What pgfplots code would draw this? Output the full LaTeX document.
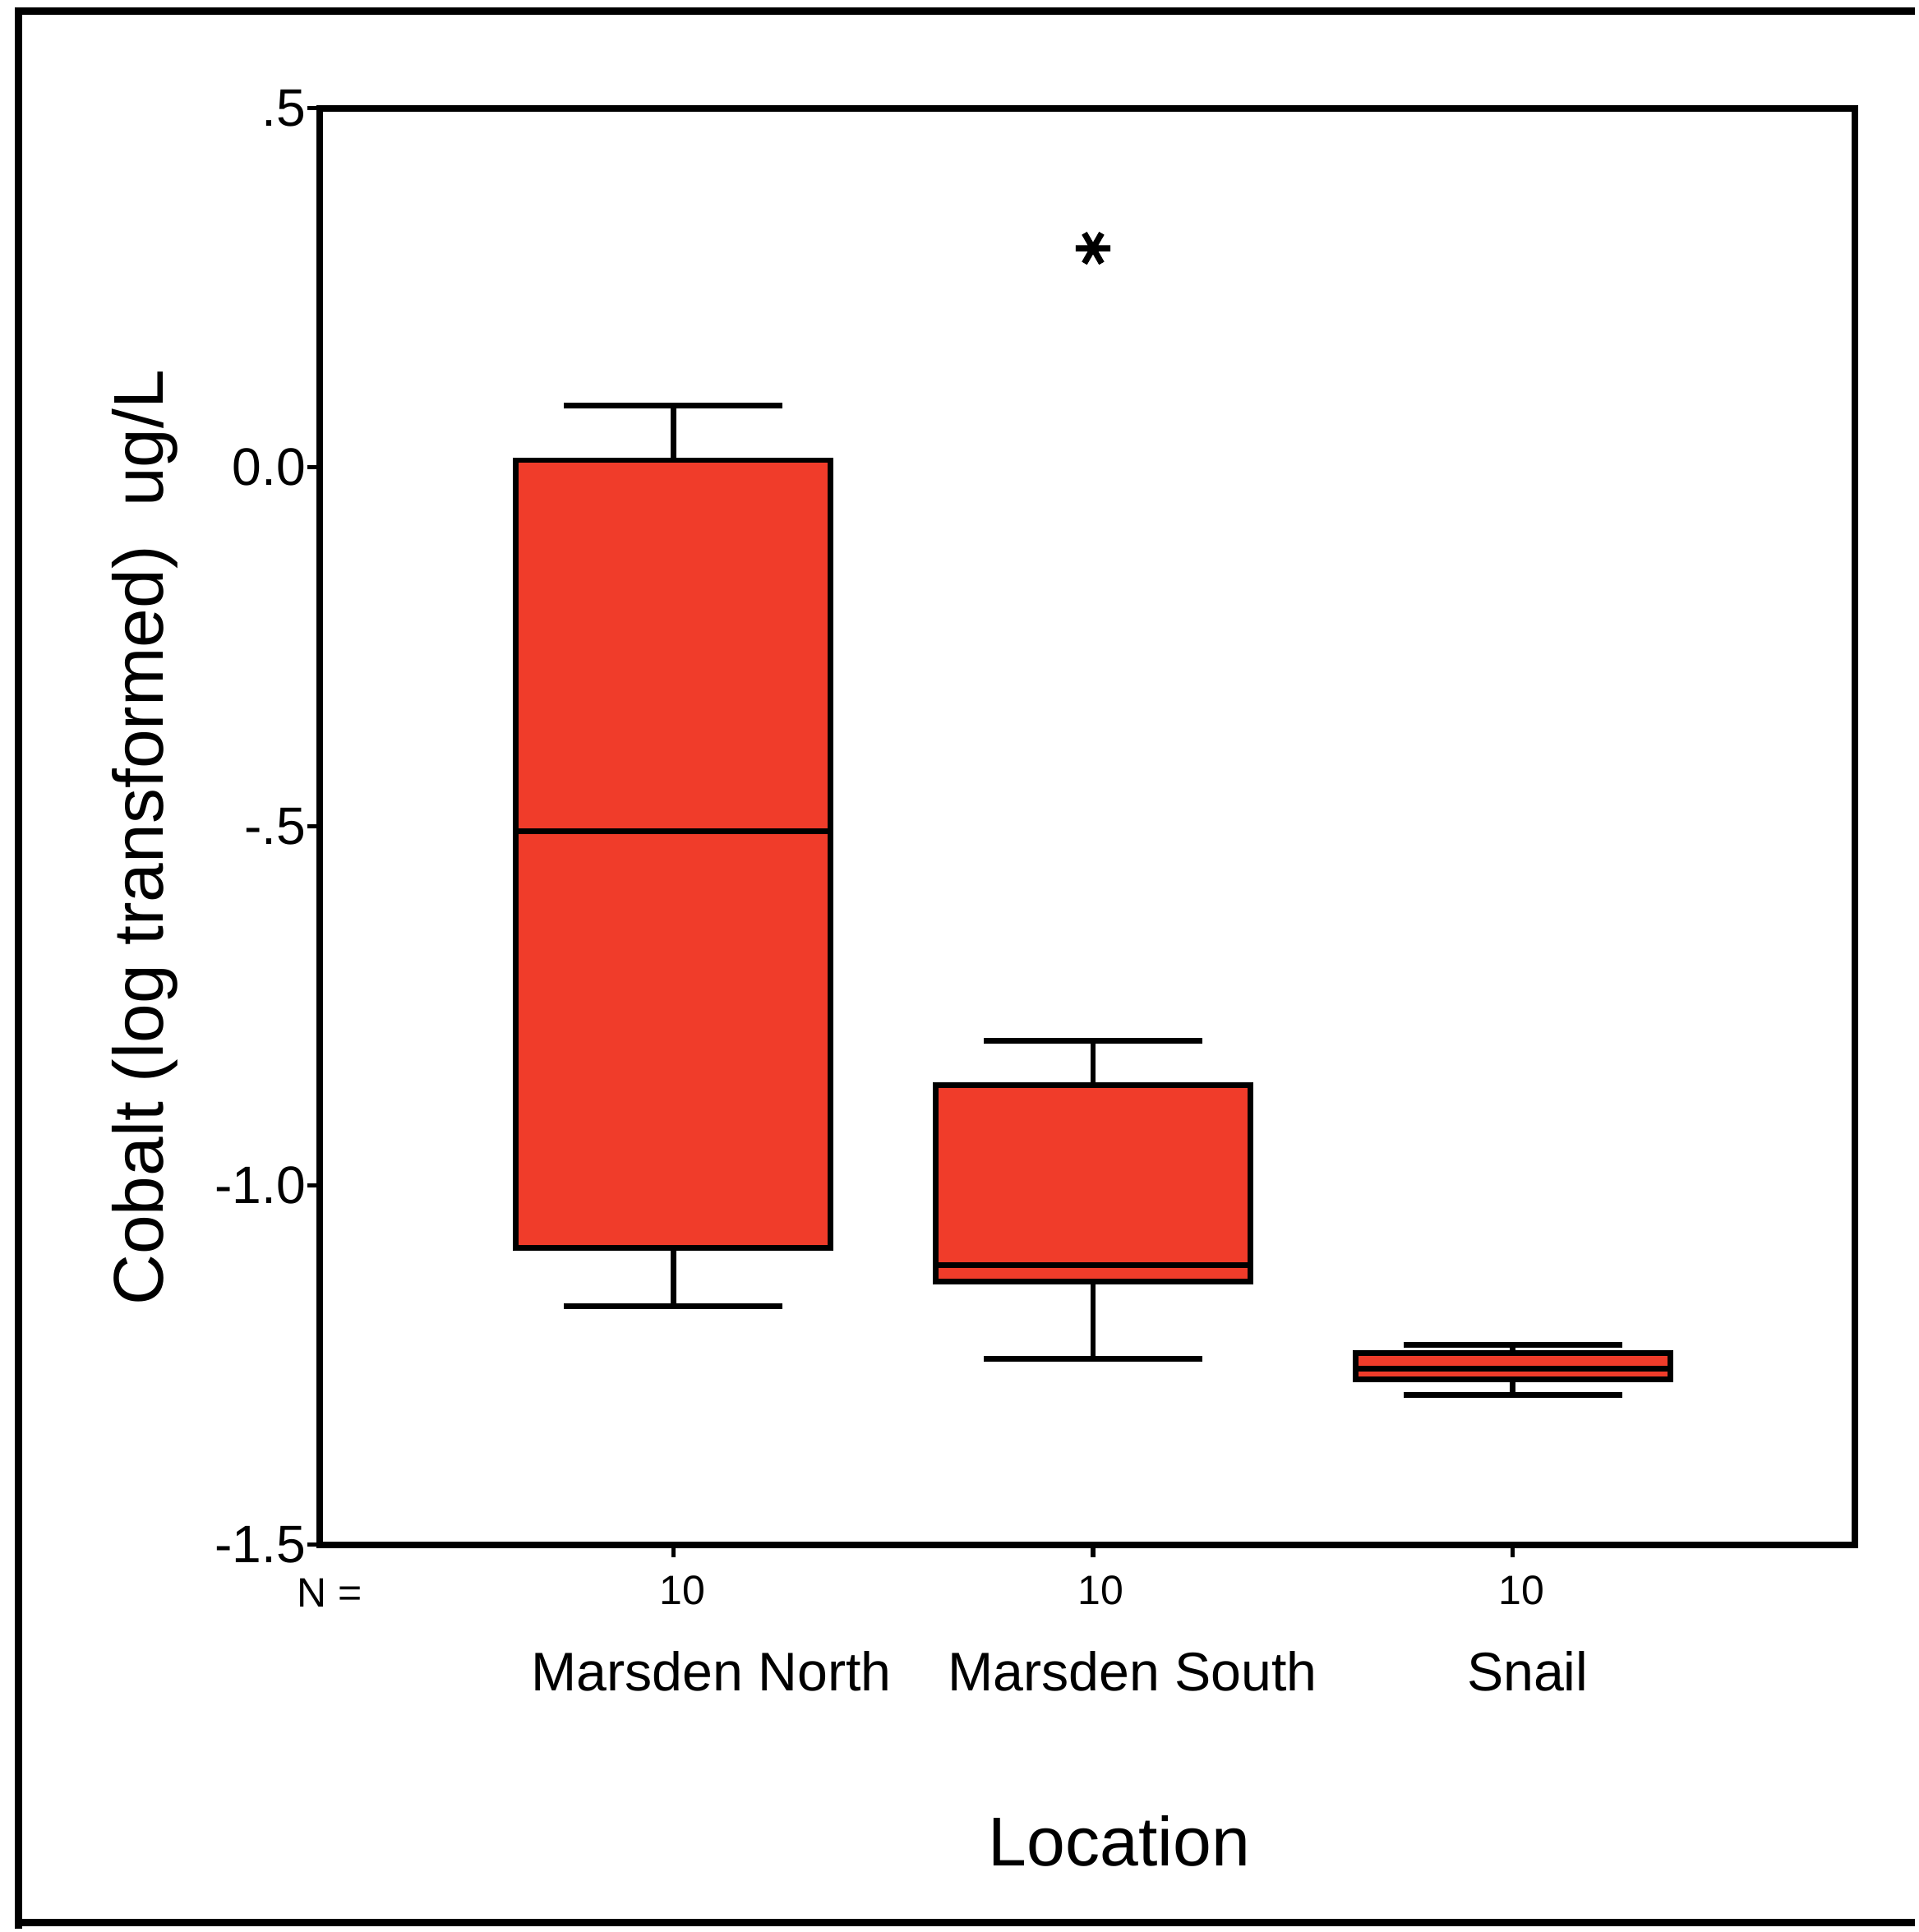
\documentclass[border=0pt]{standalone}
\usepackage{fontspec}
\setmainfont{Liberation Sans}
\usepackage{pgfplots}
\pgfplotsset{compat=1.18}
\usepgfplotslibrary{statistics}
\usetikzlibrary{plotmarks}
\definecolor{boxred}{RGB}{240,60,42}
\begin{document}
\begin{tikzpicture}
\begin{scope}[x=0.1mm,y=-0.1mm,yshift=156.8mm]
\path[use as bounding box] (0,0) rectangle (1557,1568);
\end{scope}
\begin{axis}[
  at={(26mm,31.2mm)}, anchor=south west,
  scale only axis, width=124.8mm, height=116.8mm,
  xmin=0.158, xmax=3.815, ymin=-1.5, ymax=0.5,
  axis line style={line width=1.5pt},
  tick align=outside, major tick length=1mm,
  tick style={black, line width=1pt},
  xtick pos=left, ytick pos=left,
  xtick={1,2,3},
  xticklabels={{\hspace*{6.2mm}Marsden North},{\hspace*{6.4mm}Marsden South},{\hspace*{2.4mm}Snail}},
  xticklabel style={font=\fontsize{12.6}{14}\selectfont, anchor=center, yshift=-9.3mm},
  ytick={-1.5,-1,-0.5,0,0.5},
  yticklabels={-1.5,-1.0,-.5,0.0,.5},
  yticklabel style={font=\fontsize{12.2}{14}\selectfont, xshift=1.1mm},
  boxplot/draw direction=y,
  boxplot/every box/.style={draw=black, fill=boxred, line width=1.3pt},
  boxplot/every whisker/.style={draw=black, line width=1.3pt},
  boxplot/every median/.style={draw=black, line width=1.3pt},
  clip=false,
]
\addplot[boxplot prepared={draw position=1, lower whisker=-1.168, lower quartile=-1.087, median=-0.507, upper quartile=0.010, upper whisker=0.086, box extend=0.75, whisker extend=0.52}, boxplot/draw direction=y, draw=black] coordinates {};
\addplot[boxplot prepared={draw position=2, lower whisker=-1.241, lower quartile=-1.134, median=-1.111, upper quartile=-0.860, upper whisker=-0.798, box extend=0.75, whisker extend=0.52}, boxplot/draw direction=y, draw=black, mark=asterisk, mark size=4pt, mark options={rotate=90, line width=1.4pt, black}] table[row sep=\\, y index=0] {data\\ 0.305\\};
\addplot[boxplot prepared={draw position=3, lower whisker=-1.291, lower quartile=-1.270, median=-1.255, upper quartile=-1.233, upper whisker=-1.222, box extend=0.75, whisker extend=0.52}, boxplot/draw direction=y, draw=black] coordinates {};
\end{axis}
\begin{scope}[x=0.1mm,y=-0.1mm,yshift=156.8mm]
\draw[line width=1.6pt] (15,1568) -- (15,9) -- (1557,9);
\draw[line width=1.6pt] (15,1563) -- (1557,1563);
\node[font=\fontsize{9.5}{11}\selectfont] at (268,1295) {N =};
\node[font=\fontsize{9.5}{11}\selectfont] at (555,1293) {10};
\node[font=\fontsize{9.5}{11}\selectfont] at (895,1293) {10};
\node[font=\fontsize{9.5}{11}\selectfont] at (1237,1293) {10};
\node[font=\fontsize{16}{19}\selectfont] at (910,1497) {Location};
\node[font=\fontsize{16.3}{19}\selectfont, rotate=90] at (118,681) {Cobalt (log transformed)\ \ ug/L};
\end{scope}
\end{tikzpicture}
\end{document}
